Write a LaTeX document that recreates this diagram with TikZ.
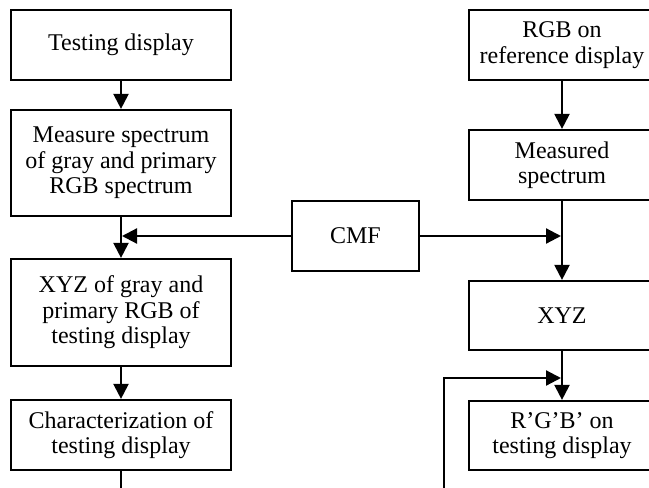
\documentclass[tikz,border=0pt]{standalone}
\usepackage{fontspec}
\setmainfont{Liberation Serif}
\usetikzlibrary{arrows.meta}
\begin{document}
\begin{tikzpicture}[x=1pt,y=-1pt,
  box/.style={draw,line width=2.2pt,inner sep=0pt,align=center,
    font=\fontsize{24}{25.5}\selectfont},
  conn/.style={line width=2.2pt,-{Triangle[length=15pt,width=15pt]}},
  plain/.style={line width=2.2pt}]
\useasboundingbox (0,0) rectangle (649,488);
\clip (0,0) rectangle (649,488);
% left column
\node[box,minimum width=220pt,minimum height=70pt] (b1) at (121,45) {Testing display};
\node[box,minimum width=220pt,minimum height=106pt] (b2) at (121,163) {Measure spectrum\\of gray and primary\\RGB spectrum};
\node[box,minimum width=220pt,minimum height=107pt] (b3) at (121,312.5) {XYZ of gray and\\primary RGB of\\testing display};
\node[box,minimum width=220pt,minimum height=70pt] (b4) at (121,435) {Characterization of\\testing display};
% CMF
\node[box,minimum width=127pt,minimum height=70pt] (cmf) at (355.5,236) {CMF};
% right column
\node[box,minimum width=186pt,minimum height=70pt] (r1) at (562,45) {RGB on\\reference display};
\node[box,minimum width=186pt,minimum height=70pt] (r2) at (562,165) {Measured\\spectrum};
\node[box,minimum width=186pt,minimum height=69pt] (r3) at (562,315.5) {XYZ};
\node[box,minimum width=186pt,minimum height=69pt] (r4) at (562,435.5) {R’G’B’ on\\testing display};
% coordinates
\coordinate (lj) at (122,236);
\coordinate (rj) at (561,236);
\coordinate (fj) at (561,378);
\coordinate (lb) at (121,500);
\coordinate (fb) at (444,500);
\coordinate (fc) at (444,378);
% connectors
\draw[conn] (b1) -- (b2);
\draw[conn] (b2) -- (b3);
\draw[conn] (b3) -- (b4);
\draw[plain] (b4) -- (lb);
\draw[conn] (cmf.west) -- (lj);
\draw[conn] (cmf.east) -- (rj);
\draw[conn] (r1) -- (r2);
\draw[conn] (r2) -- (r3);
\draw[conn] (r3) -- (r4);
\draw[conn] (fb) -- (fc) -- (fj);
\end{tikzpicture}
\end{document}
